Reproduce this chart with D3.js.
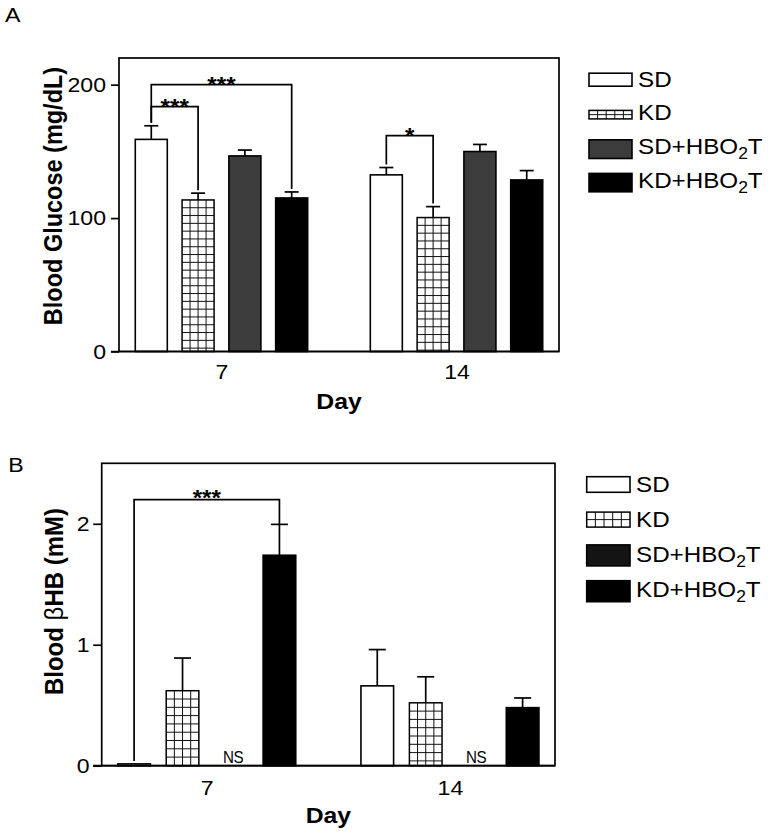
<!DOCTYPE html>
<html><head><meta charset="utf-8">
<script src="https://cdn.jsdelivr.net/npm/d3@7"></script>
<style>
body{margin:0;background:#fff}
svg{display:block}
text{font-family:"Liberation Sans",Arial,Helvetica,sans-serif;fill:#000}
</style>
</head><body>
<svg id="c" width="768" height="836"></svg>
<script>
// ---------- data ----------
const days = ['7', '14'];
const groups = ['SD', 'KD', 'SD+HBO2T', 'KD+HBO2T'];

const glucoseDay7     = [159.0, 113.6, 146.6, 115.1];
const glucoseDay7Err  = [10.2, 5.1, 4.4, 4.5];
const glucoseDay14    = [132.4, 100.4, 149.9, 128.6];
const glucoseDay14Err = [5.5, 8.2, 5.3, 7.0];
const glucoseTicks    = [0, 100, 200];

const bhbDay7     = [0.015, 0.62, null, 1.74];
const bhbDay7Err  = [0, 0.27, null, 0.255];
const bhbDay14    = [0.66, 0.52, null, 0.48];
const bhbDay14Err = [0.30, 0.215, null, 0.08];
const bhbTicks    = [0, 1, 2];

const glucoseBrackets = [
  {day: '7',  from: 'SD', to: 'KD+HBO2T', level: 200,   label: '***'},
  {day: '7',  from: 'SD', to: 'KD',       level: 183.6, label: '***'},
  {day: '14', from: 'SD', to: 'KD',       level: 161.8, label: '*'}
];
const bhbBrackets = [
  {day: '7', from: 'SD', to: 'KD+HBO2T', level: 2.2, label: '***'}
];
const missingLabel = 'NS';

// ---------- drawing ----------
const svg = d3.select('#c');
const SX = 1.1; // horizontal stretch of the original artwork

function htext(g, x, y, str, size, weight, anchor) {
  return g.append('text')
    .attr('transform', `translate(${x},${y}) scale(${SX},1)`)
    .attr('text-anchor', anchor || 'start')
    .style('font-size', size + 'px')
    .style('font-weight', weight || 'normal')
    .text(str);
}

function gridBox(g, x, y, w, h, cols, rowH, rows, lw) {
  g.append('rect').attr('x', x).attr('y', y).attr('width', w).attr('height', h)
    .attr('fill', '#fff');
  const gl = g.append('g').attr('stroke', '#111').attr('stroke-width', lw || 1);
  for (let k = 1; k < cols; k++) {
    gl.append('line').attr('x1', x + k * w / cols).attr('x2', x + k * w / cols)
      .attr('y1', y).attr('y2', y + h);
  }
  if (rows) {
    for (let k = 1; k < rows; k++) {
      gl.append('line').attr('x1', x).attr('x2', x + w)
        .attr('y1', y + k * h / rows).attr('y2', y + k * h / rows);
    }
  } else {
    for (let yy = y + rowH; yy < y + h - 1; yy += rowH) {
      gl.append('line').attr('x1', x).attr('x2', x + w).attr('y1', yy).attr('y2', yy);
    }
  }
  g.append('rect').attr('x', x).attr('y', y).attr('width', w).attr('height', h)
    .attr('fill', 'none').attr('stroke', '#000').attr('stroke-width', 1.5);
}

function legendLabel(g, x, y, name, size) {
  const t = g.append('text')
    .attr('transform', `translate(${x},${y}) scale(${SX},1)`)
    .style('font-size', size + 'px');
  if (name.endsWith('HBO2T')) {
    t.append('tspan').text(name.replace('HBO2T', 'HBO'));
    t.append('tspan').attr('dy', 5).style('font-size', (size * 0.72) + 'px').text('2');
    t.append('tspan').attr('dy', -5).text('T');
  } else {
    t.text(name);
  }
}

function drawPanel(o) {
  const g = svg.append('g');
  const y = d3.scaleLinear().domain([0, o.yMax]).range([o.bottom, o.top]);
  const x = d3.scalePoint().domain(days).range([o.left, o.right]).padding(o.xPad);
  const xi = d3.scaleBand().domain(groups)
    .range([-o.groupW / 2, o.groupW / 2]).paddingInner(o.pInner).paddingOuter(0);
  const bw = xi.bandwidth();

  const rows = [];
  days.forEach((d, i) => groups.forEach((s, j) => {
    rows.push({day: d, group: s, value: o.values[i][j], err: o.errs[i][j]});
  }));

  // bars
  rows.forEach(r => {
    const bx = x(r.day) + xi(r.group);
    const cx = bx + bw / 2;
    if (r.value === null) {
      g.append('text')
        .attr('transform', `translate(${cx + 2},${o.bottom - 2.5}) scale(0.95,1)`)
        .attr('text-anchor', 'middle').style('font-size', '16px')
        .style('letter-spacing', '-0.5px')
        .text(missingLabel);
      return;
    }
    const ty = y(r.value), h = o.bottom - ty;
    if (r.group === 'KD') {
      gridBox(g, bx, ty, bw, h, 4, o.cellH, 0, 1);
    } else {
      g.append('rect').attr('x', bx).attr('y', ty).attr('width', bw).attr('height', h)
        .attr('fill', o.colors[r.group]).attr('stroke', '#000').attr('stroke-width', 1.6);
    }
    if (r.err) {
      const ey = y(r.value + r.err);
      g.append('line').attr('x1', cx).attr('x2', cx).attr('y1', ty).attr('y2', ey)
        .attr('stroke', '#000').attr('stroke-width', 1.7);
      g.append('line').attr('x1', cx - o.capW / 2).attr('x2', cx + o.capW / 2)
        .attr('y1', ey).attr('y2', ey).attr('stroke', '#000').attr('stroke-width', 1.7);
    }
  });

  // frame + baseline
  g.append('rect').attr('x', o.left).attr('y', o.top)
    .attr('width', o.right - o.left).attr('height', o.bottom - o.top)
    .attr('fill', 'none').attr('stroke', '#000').attr('stroke-width', 1.7);
  g.append('line').attr('x1', o.left - o.tickLen).attr('x2', o.right)
    .attr('y1', o.bottom).attr('y2', o.bottom).attr('stroke', '#000').attr('stroke-width', 1.7);

  // y axis
  const ya = g.append('g').attr('transform', `translate(${o.left},0)`)
    .call(d3.axisLeft(y).tickValues(o.ticks).tickSize(o.tickLen)
      .tickPadding(o.tickPad).tickSizeOuter(0).tickFormat(d3.format('d')));
  ya.select('.domain').remove();
  ya.selectAll('.tick line').attr('stroke', '#000').attr('stroke-width', 1.7);
  ya.selectAll('.tick text').attr('x', null)
    .attr('transform', `translate(${-(o.tickLen + o.tickPad)},0) scale(${SX},1)`)
    .style('font-size', '21px');

  // x axis labels
  const xa = g.append('g').attr('transform', `translate(0,${o.bottom})`)
    .call(d3.axisBottom(x).tickSize(0).tickPadding(0));
  xa.select('.domain').remove();
  xa.selectAll('.tick line').remove();
  xa.selectAll('.tick text').attr('y', null).attr('dy', null)
    .attr('transform', `translate(0,${o.xTickBase}) scale(${SX},1)`)
    .style('font-size', '21px');

  // axis titles
  htext(g, (o.left + o.right) / 2, o.dayBase, 'Day', 22.5, 'bold', 'middle');
  const yl = g.append('text')
    .attr('transform', `translate(${o.yLabX},${o.yLabY}) scale(${SX},1) rotate(-90)`)
    .attr('text-anchor', 'middle').style('font-size', o.yLabSize + 'px')
    .style('font-weight', 'bold');
  o.yLabel.forEach(p => {
    yl.append('tspan').text(p.t)
      .style('font-weight', p.normal ? 'normal' : 'bold');
  });

  // panel letter
  htext(g, o.letterX, o.letterY, o.letter, 21, 'normal', 'start');

  // brackets
  const errTop = (day, grp) => {
    const r = rows.find(q => q.day === day && q.group === grp);
    return y(r.value + (r.err || 0));
  };
  o.brackets.forEach(b => {
    const x1 = x(b.day) + xi(b.from) + bw / 2;
    const x2 = x(b.day) + xi(b.to) + bw / 2;
    const ly = y(b.level);
    const y1 = errTop(b.day, b.from) - 3;
    const y2 = errTop(b.day, b.to) - o.rightGap;
    g.append('path').attr('d', `M${x1},${y1}V${ly}H${x2}V${y2}`)
      .attr('fill', 'none').attr('stroke', '#000').attr('stroke-width', 1.7);
    htext(g, (x1 + x2) / 2, ly + o.starDy, b.label, 22, 'bold', 'middle');
  });

  // legend
  const lg = g.append('g');
  groups.forEach((s, i) => {
    const base = o.legBase0 + i * o.legStep;
    const [off, h] = o.legBoxes[i];
    if (s === 'KD') {
      gridBox(lg, o.legX, base + off, o.legW, h, 5, 0, 2, 1);
    } else {
      lg.append('rect').attr('x', o.legX).attr('y', base + off)
        .attr('width', o.legW).attr('height', h)
        .attr('fill', o.colors[s]).attr('stroke', '#000').attr('stroke-width', 1.6);
    }
    legendLabel(lg, o.legX + o.legW + 6, base, s, 22);
  });
}

drawPanel({
  letter: 'A', letterX: 5, letterY: 22,
  left: 119, right: 559, top: 58, bottom: 351.5,
  yMax: 220, ticks: glucoseTicks,
  values: [glucoseDay7, glucoseDay14], errs: [glucoseDay7Err, glucoseDay14Err],
  brackets: glucoseBrackets,
  colors: {'SD': '#fff', 'KD': '#fff', 'SD+HBO2T': '#3c3c3c', 'KD+HBO2T': '#000'},
  xPad: 0.436, groupW: 172.4, pInner: 0.316, capW: 14, cellH: 7.8,
  tickLen: 8, tickPad: 5, xTickBase: 27, dayBase: 408.5,
  yLabel: [{t: 'Blood Glucose (mg/dL)'}], yLabX: 62.3, yLabY: 196, yLabSize: 23.5,
  rightGap: 3, starDy: 7,
  legX: 589, legW: 43, legBase0: 86.7, legStep: 33.7,
  legBoxes: [[-13.5, 13], [-10, 8.5], [-14.3, 18.7], [-14.4, 18.4]]
});

drawPanel({
  letter: 'B', letterX: 8.3, letterY: 471.7,
  left: 101.7, right: 555, top: 463.3, bottom: 765.7,
  yMax: 2.5, ticks: bhbTicks,
  values: [bhbDay7, bhbDay14], errs: [bhbDay7Err, bhbDay14Err],
  brackets: bhbBrackets,
  colors: {'SD': '#fff', 'KD': '#fff', 'SD+HBO2T': '#141414', 'KD+HBO2T': '#000'},
  xPad: 0.432, groupW: 178, pInner: 0.326, capW: 17, cellH: 8.3,
  tickLen: 8.5, tickPad: 3.5, xTickBase: 29.3, dayBase: 823.3,
  yLabel: [{t: 'Blood '}, {t: 'β', normal: true}, {t: 'HB (mM)'}],
  yLabX: 63.3, yLabY: 601.5, yLabSize: 24,
  rightGap: 0, starDy: 5,
  legX: 586.7, legW: 43.3, legBase0: 492.3, legStep: 34.8,
  legBoxes: [[-15.6, 15.6], [-15, 15], [-17, 21], [-16, 21]]
});
</script>
</body></html>
